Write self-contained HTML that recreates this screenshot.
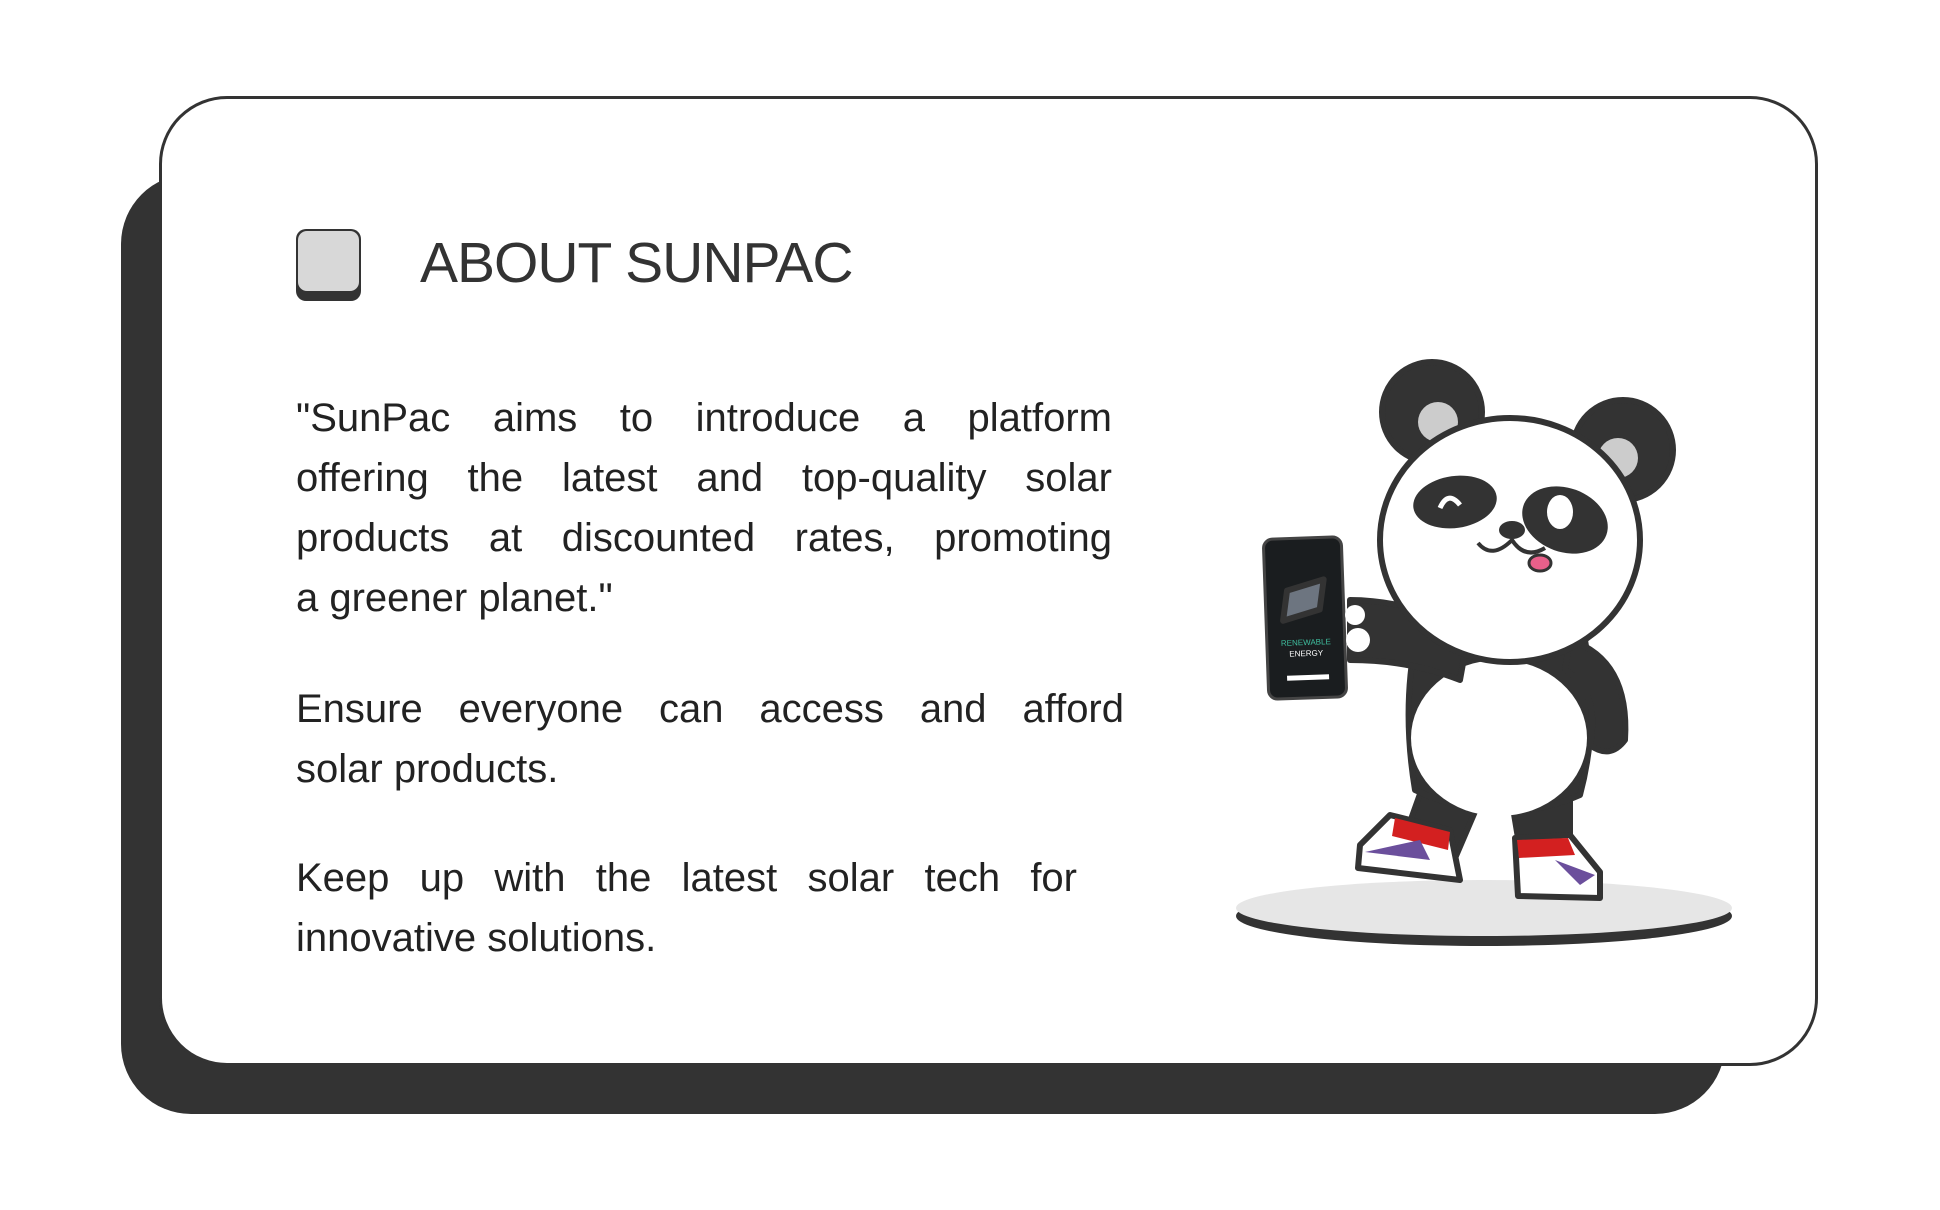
<!DOCTYPE html>
<html><head><meta charset="utf-8"><style>
html,body{margin:0;padding:0;background:#fff;}
body{width:1940px;height:1210px;position:relative;overflow:hidden;font-family:"Liberation Sans",sans-serif;color:#222;}
.shadow{position:absolute;left:121px;top:174px;width:1604px;height:940px;background:#333;border-radius:70px;}
.card{position:absolute;left:159px;top:96px;width:1653px;height:964px;background:#fff;border:3px solid #333;border-radius:68px;}
.icon{position:absolute;left:296px;top:229px;width:65px;height:72px;background:#333;border-radius:10px;}
.icon i{position:absolute;left:2px;top:2px;width:61px;height:60px;background:#d8d8d8;border-radius:9px;}
.title{position:absolute;left:420px;top:230px;font-size:57px;color:#333;letter-spacing:-1px;}
.para{position:absolute;left:296px;font-size:40px;line-height:60px;color:#222;}
.ln{white-space:nowrap;text-align:justify;text-align-last:justify;}
.ln.last{text-align-last:left;}
</style></head><body>
<div class="shadow"></div>
<div class="card"></div>
<div class="icon"><i></i></div>
<div class="title">ABOUT SUNPAC</div>
<div class="para" style="top:388px;width:816px">
<div class="ln">"SunPac aims to introduce a platform</div>
<div class="ln">offering the latest and top-quality solar</div>
<div class="ln">products at discounted rates, promoting</div>
<div class="ln last">a greener planet."</div>
</div>
<div class="para" style="top:679px;width:828px">
<div class="ln">Ensure everyone can access and afford</div>
<div class="ln last">solar products.</div>
</div>
<div class="para" style="top:848px;width:781px">
<div class="ln">Keep up with the latest solar tech for</div>
<div class="ln last">innovative solutions.</div>
</div>
<svg width="1940" height="1210" style="position:absolute;left:0;top:0">
 <g stroke="#333" stroke-width="6" stroke-linejoin="round">
  <ellipse cx="1484" cy="916" rx="248" ry="30" fill="#333" stroke="none"/>
  <ellipse cx="1484" cy="908" rx="248" ry="28" fill="#e6e6e6" stroke="none"/>
  <path d="M1425 780 L1400 850 L1450 870 L1480 800 Z" fill="#333"/>
  <path d="M1510 790 L1520 850 L1570 850 L1570 790 Z" fill="#333"/>
  <path d="M1390 815 L1450 830 L1460 880 L1358 868 L1360 845 Z" fill="#fff"/>
  <path d="M1395 818 L1450 832 L1448 850 L1392 836 Z" fill="#d32020" stroke="none"/>
  <path d="M1365 852 L1420 840 L1430 860 Z" fill="#6b4f9c" stroke="none"/>
  <path d="M1515 838 L1570 835 L1600 872 L1600 898 L1518 896 Z" fill="#fff"/>
  <path d="M1517 840 L1568 838 L1575 855 L1519 858 Z" fill="#d32020" stroke="none"/>
  <path d="M1555 860 L1595 875 L1580 885 Z" fill="#6b4f9c" stroke="none"/>
  <path d="M1420 620 Q1400 700 1415 790 Q1500 830 1580 795 Q1600 720 1585 640 Z" fill="#333"/>
  <ellipse cx="1499" cy="738" rx="88" ry="78" fill="#fff" stroke="none"/>
  <path d="M1570 640 Q1630 660 1625 740 Q1610 760 1590 745 Q1600 690 1565 670 Z" fill="#333"/>
  <path d="M1470 625 Q1400 600 1350 600 L1350 660 Q1410 660 1460 680 Z" fill="#333"/>
  <circle cx="1432" cy="412" r="50" fill="#333"/>
  <circle cx="1438" cy="422" r="20" fill="#ccc" stroke="none"/>
  <circle cx="1623" cy="450" r="50" fill="#333"/>
  <circle cx="1618" cy="458" r="20" fill="#ccc" stroke="none"/>
  <ellipse cx="1510" cy="540" rx="130" ry="122" fill="#fff"/>
  <ellipse cx="1455" cy="502" rx="42" ry="26" fill="#333" stroke="none" transform="rotate(-8 1455 502)"/>
  <ellipse cx="1565" cy="520" rx="44" ry="32" fill="#333" stroke="none" transform="rotate(20 1565 520)"/>
  <path d="M1440 508 Q1448 490 1460 505" fill="none" stroke="#fff" stroke-width="5"/>
  <ellipse cx="1560" cy="512" rx="13" ry="17" fill="#fff" stroke="none"/>
  <ellipse cx="1512" cy="530" rx="13" ry="9" fill="#333" stroke="none"/>
  <path d="M1478 543 Q1492 560 1512 540 Q1525 560 1545 548" fill="none" stroke-width="4"/>
  <ellipse cx="1540" cy="563" rx="11" ry="8" fill="#e8608a" stroke-width="3"/>
  <g transform="rotate(-2 1306 618)">
   <rect x="1266" y="538" width="78" height="160" rx="9" fill="#1a1d1f" stroke="#444" stroke-width="3"/>
   <polygon points="1288,590 1325,580 1320,610 1283,620" fill="#6d7580"/>
   <text x="1305" y="645" font-size="8" fill="#3fbf9f" text-anchor="middle" font-family="Liberation Sans" stroke="none">RENEWABLE</text>
   <text x="1305" y="656" font-size="8" fill="#fff" text-anchor="middle" font-family="Liberation Sans" stroke="none">ENERGY</text>
   <rect x="1285" y="675" width="42" height="5" fill="#fff" stroke="none"/>
  </g>
  <circle cx="1355" cy="615" r="10" fill="#fff" stroke="none"/>
  <circle cx="1358" cy="640" r="12" fill="#fff" stroke="none"/>
 </g>
</svg>
</body></html>
